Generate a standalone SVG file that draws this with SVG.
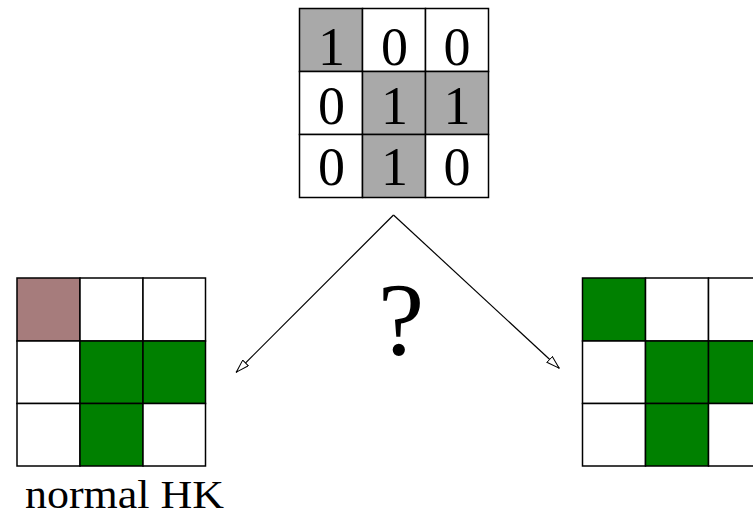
<svg xmlns="http://www.w3.org/2000/svg" width="753" height="516" viewBox="0 0 753 516">
<style>
.c{stroke:#000;stroke-width:1.5}
.w{fill:#fff}
.g{fill:#a9a9a9}
.gr{fill:#008000}
.r{fill:#a67c7c}
.d{font-family:"Liberation Serif","Times New Roman",serif;font-size:54px;text-anchor:middle;fill:#000}
.t{font-family:"Liberation Serif","Times New Roman",serif;fill:#000}
.a{fill:none;stroke:#000;stroke-width:1.2}
</style>
<defs>
<marker id="oh" viewBox="0 0 14 9" refX="14" refY="4.5" markerWidth="14" markerHeight="9" markerUnits="userSpaceOnUse" orient="auto">
<path d="M0.5,0.5 L13.5,4.5 L0.5,8.5 z" fill="#fff" stroke="#000" stroke-width="1"/>
</marker>
</defs>
<rect width="753" height="516" fill="#fff"/>
<g id="matrix">
<rect class="c g" x="299.5" y="8.5" width="63" height="63"/>
<rect class="c w" x="362.5" y="8.5" width="63" height="63"/>
<rect class="c w" x="425.5" y="8.5" width="63" height="63"/>
<rect class="c w" x="299.5" y="71.5" width="63" height="63"/>
<rect class="c g" x="362.5" y="71.5" width="63" height="63"/>
<rect class="c g" x="425.5" y="71.5" width="63" height="63"/>
<rect class="c w" x="299.5" y="134.5" width="63" height="63"/>
<rect class="c g" x="362.5" y="134.5" width="63" height="63"/>
<rect class="c w" x="425.5" y="134.5" width="63" height="63"/>
<text class="d" x="331.5" y="65">1</text>
<text class="d" x="394.5" y="65">0</text>
<text class="d" x="457" y="65">0</text>
<text class="d" x="331.5" y="124">0</text>
<text class="d" x="394.5" y="124">1</text>
<text class="d" x="457" y="124">1</text>
<text class="d" x="331.5" y="185">0</text>
<text class="d" x="394.5" y="185">1</text>
<text class="d" x="457" y="185">0</text>
</g>
<g id="normal-hk">
<rect class="c r" x="17" y="278" width="63" height="63"/>
<rect class="c w" x="80" y="278" width="63" height="63"/>
<rect class="c w" x="143" y="278" width="62.5" height="63"/>
<rect class="c w" x="17" y="341" width="63" height="62.5"/>
<rect class="c gr" x="80" y="341" width="63" height="62.5"/>
<rect class="c gr" x="143" y="341" width="62.5" height="62.5"/>
<rect class="c w" x="17" y="403.5" width="63" height="62.5"/>
<rect class="c gr" x="80" y="403.5" width="63" height="62.5"/>
<rect class="c w" x="143" y="403.5" width="62.5" height="62.5"/>
<text class="t" x="25" y="508" font-size="41" textLength="199" lengthAdjust="spacingAndGlyphs">normal HK</text>
</g>
<g id="other">
<rect class="c gr" x="582.5" y="278" width="63" height="63"/>
<rect class="c w" x="645.5" y="278" width="63" height="63"/>
<rect class="c w" x="708.5" y="278" width="63" height="63"/>
<rect class="c w" x="582.5" y="341" width="63" height="62.5"/>
<rect class="c gr" x="645.5" y="341" width="63" height="62.5"/>
<rect class="c gr" x="708.5" y="341" width="63" height="62.5"/>
<rect class="c w" x="582.5" y="403.5" width="63" height="62.5"/>
<rect class="c gr" x="645.5" y="403.5" width="63" height="62.5"/>
<rect class="c w" x="708.5" y="403.5" width="63" height="62.5"/>
</g>
<g id="connectors">
<path class="a" d="M393.5,215 L236,372.5" marker-end="url(#oh)"/>
<path class="a" d="M393.5,215 L559.5,368.5" marker-end="url(#oh)"/>
</g>
<g id="question">
<text class="t" x="401" y="355" font-size="104" text-anchor="middle">?</text>
</g>
</svg>
